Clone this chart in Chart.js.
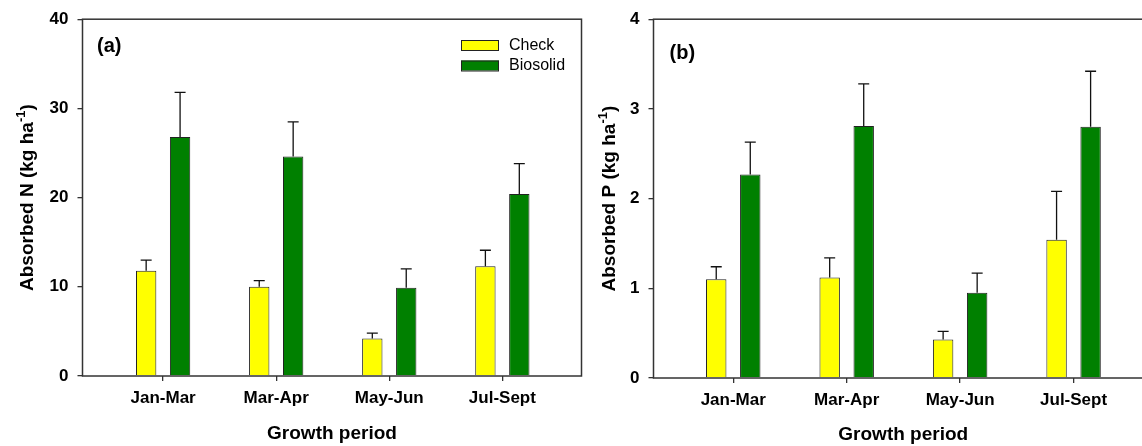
<!DOCTYPE html>
<html>
<head>
<meta charset="utf-8">
<title>Absorbed N and P by growth period</title>
<script src="https://cdn.jsdelivr.net/npm/chart.js@4.4.1/dist/chart.umd.min.js"></script>
<style>
  html, body { margin: 0; padding: 0; background: #fff; overflow: hidden; width: 1142px; height: 446px; }
  #chartN { position: absolute; left: 0; top: 0; }
  #chartP { position: absolute; left: 582px; top: 0; }
</style>
</head>
<body>
<canvas id="chartN" width="590" height="446"></canvas>
<canvas id="chartP" width="590" height="446"></canvas>
<script>
// chart data
const periods = ["Jan-Mar", "Mar-Apr", "May-Jun", "Jul-Sept"];
const seriesNames = ["Check", "Biosolid"];
const seriesColors = ["#ffff00", "#008000"];

const checkN = [11.8, 10.0, 4.2, 12.3];
const checkNErr = [1.2, 0.7, 0.6, 1.8];
const biosolidN = [26.8, 24.6, 9.9, 20.4];
const biosolidNErr = [5.0, 3.9, 2.1, 3.4];

const checkP = [1.10, 1.12, 0.43, 1.54];
const checkPErr = [0.14, 0.22, 0.09, 0.54];
const biosolidP = [2.27, 2.81, 0.95, 2.80];
const biosolidPErr = [0.36, 0.47, 0.22, 0.62];

const nTicks = [0, 10, 20, 30, 40];
const pTicks = [0, 1, 2, 3, 4];

const FONT = "Arial, 'Liberation Sans', sans-serif";
const H = 446;

//draws the rotated y title with a superscript
const drawYTitle = (ctx, x, cy, parts) => {
  const big = `bold 19px ${FONT}`;
  const small = `bold 13px ${FONT}`;
  ctx.save();
  ctx.translate(x, cy);
  ctx.rotate(-Math.PI / 2);
  ctx.fillStyle = "#000";
  ctx.textBaseline = "alphabetic";
  ctx.textAlign = "left";
  ctx.font = big;
  const w1 = ctx.measureText(parts[0]).width;
  const w3 = ctx.measureText(parts[2]).width;
  ctx.font = small;
  const w2 = ctx.measureText(parts[1]).width;
  let px = -(w1 + w2 + w3) / 2;
  ctx.font = big;
  ctx.fillText(parts[0], px, 0);
  px += w1;
  ctx.font = small;
  ctx.fillText(parts[1], px, -8);
  px += w2;
  ctx.font = big;
  ctx.fillText(parts[2], px, 0);
  ctx.restore();
};

const makeChart = (canvas, cfg) => {
  const area = cfg.area;
  const datasets = [cfg.check, cfg.bio].map((vals, i) => ({
    label: seriesNames[i],
    data: vals.map((v, k) => ({ x: k + 1, y: v })),
    errors: [cfg.checkErr, cfg.bioErr][i],
    backgroundColor: seriesColors[i],
    borderColor: "#222",
    borderWidth: 1,
    borderSkipped: "bottom",
    categoryPercentage: 0.6,
    barPercentage: 0.6,
  }));

  // error bars (upper only), frame, titles and legend
  const extras = {
    id: "extras",
    afterDatasetsDraw(chart) {
      const ctx = chart.ctx;
      const yScale = chart.scales.y;
      ctx.save();
      ctx.strokeStyle = "#111";
      ctx.lineWidth = 1.3;
      chart.data.datasets.forEach((ds, i) => {
        chart.getDatasetMeta(i).data.forEach((bar, k) => {
          const top = yScale.getPixelForValue(ds.data[k].y + ds.errors[k]);
          ctx.beginPath();
          ctx.moveTo(bar.x, bar.y);
          ctx.lineTo(bar.x, top);
          ctx.moveTo(bar.x - 5.5, top);
          ctx.lineTo(bar.x + 5.5, top);
          ctx.stroke();
        });
      });
      ctx.restore();
    },
    afterDraw(chart) {
      const ctx = chart.ctx;
      const ca = chart.chartArea;
      ctx.save();
      // frame
      ctx.strokeStyle = "#333";
      ctx.lineWidth = 1.5;
      ctx.strokeRect(ca.left, ca.top, ca.right - ca.left, ca.bottom - ca.top);
      // x title
      ctx.fillStyle = "#000";
      ctx.font = `bold 19px ${FONT}`;
      ctx.textAlign = "center";
      ctx.textBaseline = "middle";
      ctx.fillText("Growth period", (ca.left + ca.right) / 2, cfg.xTitleY);
      // panel tag
      ctx.font = `bold 20px ${FONT}`;
      ctx.textAlign = "left";
      ctx.fillText(cfg.tag, cfg.tagPos[0], cfg.tagPos[1]);
      ctx.restore();

      drawYTitle(ctx, cfg.yTitleX, (ca.top + ca.bottom) / 2, cfg.yTitle);

      if (cfg.legend) {
        ctx.save();
        ctx.font = `16px ${FONT}`;
        ctx.textBaseline = "middle";
        ctx.textAlign = "left";
        chart.data.datasets.forEach((ds, i) => {
          const y = cfg.legend[1] + i * 20.5;
          ctx.fillStyle = ds.backgroundColor;
          ctx.fillRect(cfg.legend[0], y, 38, 10);
          ctx.strokeStyle = "#222";
          ctx.lineWidth = 1;
          ctx.strokeRect(cfg.legend[0] + 0.5, y + 0.5, 37, 10);
          ctx.fillStyle = "#000";
          ctx.fillText(ds.label, cfg.legend[0] + 48, y + 5.5);
        });
        ctx.restore();
      }
    },
  };

  return new Chart(canvas, {
    type: "bar",
    data: { datasets },
    plugins: [extras],
    options: {
      responsive: false,
      animation: false,
      layout: {
        padding: { left: 0, top: area.top, right: canvas.width - area.right, bottom: 0 },
      },
      plugins: { legend: { display: false }, tooltip: { enabled: false } },
      scales: {
        x: {
          type: "linear",
          offset: false,
          min: cfg.xRange[0],
          max: cfg.xRange[1],
          afterFit: (s) => { s.height = H - area.bottom; },
          afterBuildTicks: (s) => { s.ticks = periods.map((p, k) => ({ value: k + 1 })); },
          border: { display: false },
          grid: { offset: false, drawOnChartArea: false, drawTicks: true, tickLength: 5, color: "#333", lineWidth: 1.3 },
          ticks: {
            callback: (v) => periods[v - 1],
            font: { family: FONT, size: 17, weight: "bold" },
            color: "#000",
            padding: 7,
            maxRotation: 0,
          },
        },
        y: {
          min: cfg.yTicks[0],
          max: cfg.yTicks[cfg.yTicks.length - 1],
          afterFit: (s) => { s.width = area.left; },
          afterBuildTicks: (s) => { s.ticks = cfg.yTicks.map((v) => ({ value: v })); },
          border: { display: false },
          grid: { drawOnChartArea: false, drawTicks: true, tickLength: 5, color: "#333", lineWidth: 1.3 },
          ticks: {
            font: { family: FONT, size: 17, weight: "bold" },
            color: "#000",
            padding: 9,
          },
        },
      },
    },
  });
};

makeChart(document.getElementById("chartN"), {
  check: checkN, checkErr: checkNErr, bio: biosolidN, bioErr: biosolidNErr,
  yTicks: nTicks,
  area: { left: 82.5, top: 16, right: 581.5, bottom: 376 },
  xRange: [0.287, 4.70],
  yTitle: ["Absorbed N (kg ha", "-1", ")"],
  yTitleX: 33,
  xTitleY: 434,
  tag: "(a)",
  tagPos: [97, 46],
  legend: [461, 40],
});

makeChart(document.getElementById("chartP"), {
  check: checkP, checkErr: checkPErr, bio: biosolidP, bioErr: biosolidPErr,
  yTicks: pTicks,
  area: { left: 71.5, top: 19, right: 571, bottom: 378 },
  xRange: [0.297, 4.70],
  yTitle: ["Absorbed P (kg ha", "-1", ")"],
  yTitleX: 33,
  xTitleY: 435,
  tag: "(b)",
  tagPos: [87.5, 53],
  legend: null,
});
</script>
</body>
</html>
